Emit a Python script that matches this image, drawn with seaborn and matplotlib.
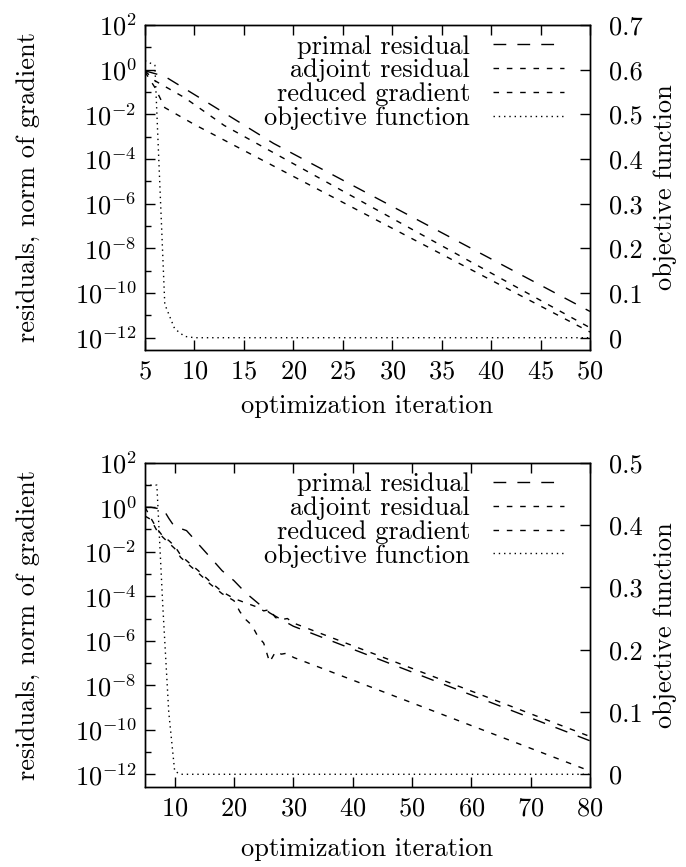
import matplotlib
matplotlib.use("Agg")
import matplotlib.pyplot as plt
import seaborn as sns
import pandas as pd
from matplotlib.ticker import FixedLocator, FuncFormatter, NullFormatter

# ---------------- data: top panel ----------------
top_primal_it = [5, 7, 12, 18, 50]
top_primal = [0.89, 0.5, 2.2e-2, 5e-4, 1.5e-11]
top_adjoint_it = [5, 6, 9, 13, 50]
top_adjoint = [0.89, 0.32, 5.6e-2, 3.2e-3, 2.8e-12]
top_gradient_it = [5, 6, 7, 10, 50]
top_gradient = [0.79, 0.16, 2e-2, 3.5e-3, 1.8e-12]
top_objective_it = [5, 6, 7, 8, 9, 10, 50]
top_objective = [0.62, 0.61, 0.075, 0.02, 0.003, 0.0, 0.0]

# ---------------- data: bottom panel ----------------
bot_primal_it = [5, 6, 7, 8, 9, 10, 11, 12, 13, 14, 16, 18, 20, 22, 24, 26, 28, 30, 80]
bot_primal = [1.0, 1.0, 0.89, 0.89, 0.32, 0.13, 0.11, 0.089, 0.045, 0.022, 5.6e-3,
              1.4e-3, 5e-4, 1.4e-4, 5e-5, 1.8e-5, 8.9e-6, 4.5e-6, 3.2e-11]
bot_adjoint_it = [5, 6, 7, 8, 9, 10, 11, 12, 14, 16, 18, 20, 22, 24, 25, 26, 27, 28, 29, 30, 80]
bot_adjoint = [1.0, 0.32, 0.11, 0.05, 0.032, 0.018, 7.1e-3, 4e-3, 1.4e-3, 4.5e-4, 1.6e-4,
               7.9e-5, 5e-5, 3.2e-5, 2.2e-5, 2.5e-5, 1.1e-5, 8.9e-6, 1e-5, 6.3e-6, 5e-11]
bot_gradient_it = [5, 6, 7, 8, 9, 10, 11, 12, 14, 16, 18, 20, 21, 22, 23, 24, 25, 26, 27, 28, 29, 30, 80]
bot_gradient = [0.4, 0.28, 0.089, 0.045, 0.025, 0.014, 5.6e-3, 3.2e-3, 1.1e-3, 3.5e-4, 1.3e-4,
                6.3e-5, 2e-5, 8.9e-6, 5e-6, 1.6e-6, 7.9e-7, 1.1e-7, 3.2e-7, 2.5e-7, 2.8e-7,
                1.8e-7, 1.4e-12]
bot_objective_it = [5, 7, 8, 9, 10, 11, 80]
bot_objective = [0.464, 0.464, 0.27, 0.1, 0.005, 0.0, 0.0]

series_names = ["primal residual", "adjoint residual", "reduced gradient", "objective function"]
left_ticks = [1e-12, 1e-10, 1e-8, 1e-6, 1e-4, 1e-2, 1e0, 1e2]
left_minor = [1e-11, 1e-9, 1e-7, 1e-5, 1e-3, 1e-1, 1e1]
top_xticks = [5, 10, 15, 20, 25, 30, 35, 40, 45, 50]
bot_xticks = [10, 20, 30, 40, 50, 60, 70, 80]
top_y2ticks = [0, 0.1, 0.2, 0.3, 0.4, 0.5, 0.6, 0.7]
bot_y2ticks = [0, 0.1, 0.2, 0.3, 0.4, 0.5]

FS = 19
sns.set_theme(style="ticks")
plt.rcParams.update({
    "font.family": ["cmr10", "DejaVu Serif"],
    "mathtext.fontset": "cm",
    "axes.formatter.use_mathtext": True,
    "font.size": FS,
    "xtick.labelsize": FS,
    "ytick.labelsize": FS,
    "axes.labelsize": FS,
    "legend.fontsize": FS,
    "axes.linewidth": 1.0,
    "axes.edgecolor": "black",
    "text.color": "black",
    "axes.labelcolor": "black",
    "xtick.color": "black",
    "ytick.color": "black",
})

W, H = 686, 867
fig = plt.figure(figsize=(W / 100, H / 100), dpi=100)
ax_t = fig.add_axes([145 / W, 1 - 350 / H, 445 / W, 325 / H])
ax_b = fig.add_axes([145 / W, 1 - 787 / H, 445 / W, 324.3 / H])

styles = {
    "primal residual": (0, (9.2, 8)),
    "adjoint residual": (0, (4, 5.6)),
    "reduced gradient": (0, (4, 5.6)),
    "objective function": (0, (1, 2.8)),
}


def fmt_pow(v, pos):
    import math
    e = int(round(math.log10(v)))
    return r"$10^{%d}$" % e


def fmt_lin(v, pos):
    return "0" if abs(v) < 1e-9 else ("%.1f" % v)


def panel(ax, resid, obj, xlim, xticks, y2ticks, y2min, ylo):
    for name, (it, vals) in zip(series_names[:3], resid):
        df = pd.DataFrame({"iteration": it, "value": vals})
        sns.lineplot(data=df, x="iteration", y="value", ax=ax, color="black",
                     linestyle=styles[name], linewidth=1.0, label=name, legend=False)
    ax.set_yscale("log")
    ax.set_xlim(*xlim)
    ax.set_ylim(ylo, 1e2)
    ax2 = ax.twinx()
    df = pd.DataFrame({"iteration": obj[0], "value": obj[1]})
    sns.lineplot(data=df, x="iteration", y="value", ax=ax2, color="black",
                 linestyle=styles["objective function"], linewidth=1.0,
                 label="objective function", legend=False)
    ax2.set_ylim(y2min, y2ticks[-1])
    ax.set_xlim(*xlim)

    ax.yaxis.set_major_locator(FixedLocator(left_ticks))
    ax.yaxis.set_minor_locator(FixedLocator(left_minor))
    ax.yaxis.set_major_formatter(FuncFormatter(fmt_pow))
    ax.yaxis.set_minor_formatter(NullFormatter())
    ax.xaxis.set_major_locator(FixedLocator(xticks))
    ax.xaxis.set_minor_locator(FixedLocator([]))
    ax2.yaxis.set_major_locator(FixedLocator(y2ticks))
    ax2.yaxis.set_major_formatter(FuncFormatter(fmt_lin))
    ax2.yaxis.set_minor_locator(FixedLocator([]))

    ax.tick_params(axis="both", which="both", direction="in", top=True, right=False,
                   width=1.0, colors="black")
    ax.tick_params(axis="both", which="major", length=7)
    ax.tick_params(axis="both", which="minor", length=4)
    ax.tick_params(axis="y", pad=6)
    ax.tick_params(axis="x", pad=7)
    ax2.tick_params(axis="y", direction="in", right=True, left=False, length=7,
                    width=1.0, pad=14)
    for sp in ax2.spines.values():
        sp.set_visible(True)
        sp.set_color("black")

    ax.set_xlabel("optimization iteration")
    ax.set_ylabel("residuals, norm of gradient")
    ax2.set_ylabel("objective function")
    ax.yaxis.set_label_coords(-0.235, 0.5)
    ax2.yaxis.set_label_coords(1.142, 0.5)

    h1, l1 = ax.get_legend_handles_labels()
    h2, l2 = ax2.get_legend_handles_labels()
    ax2.legend(h1 + h2, l1 + l2, loc="upper right", bbox_to_anchor=(0.971, 1.01),
               frameon=False, markerfirst=False, handlelength=2.7,
               handletextpad=0.85, labelspacing=0.0, borderpad=0.0)
    return ax2


panel(ax_t,
      [(top_primal_it, top_primal), (top_adjoint_it, top_adjoint), (top_gradient_it, top_gradient)],
      (top_objective_it, top_objective), (5, 50), top_xticks, top_y2ticks, -0.0275, 10 ** -12.55)
panel(ax_b,
      [(bot_primal_it, bot_primal), (bot_adjoint_it, bot_adjoint), (bot_gradient_it, bot_gradient)],
      (bot_objective_it, bot_objective), (5, 80), bot_xticks, bot_y2ticks, -0.0204, 10 ** -12.57)

ax_t.xaxis.set_label_coords(0.5, -0.135)
ax_b.xaxis.set_label_coords(0.5, -0.155)

fig.savefig("out.png", dpi=100)
